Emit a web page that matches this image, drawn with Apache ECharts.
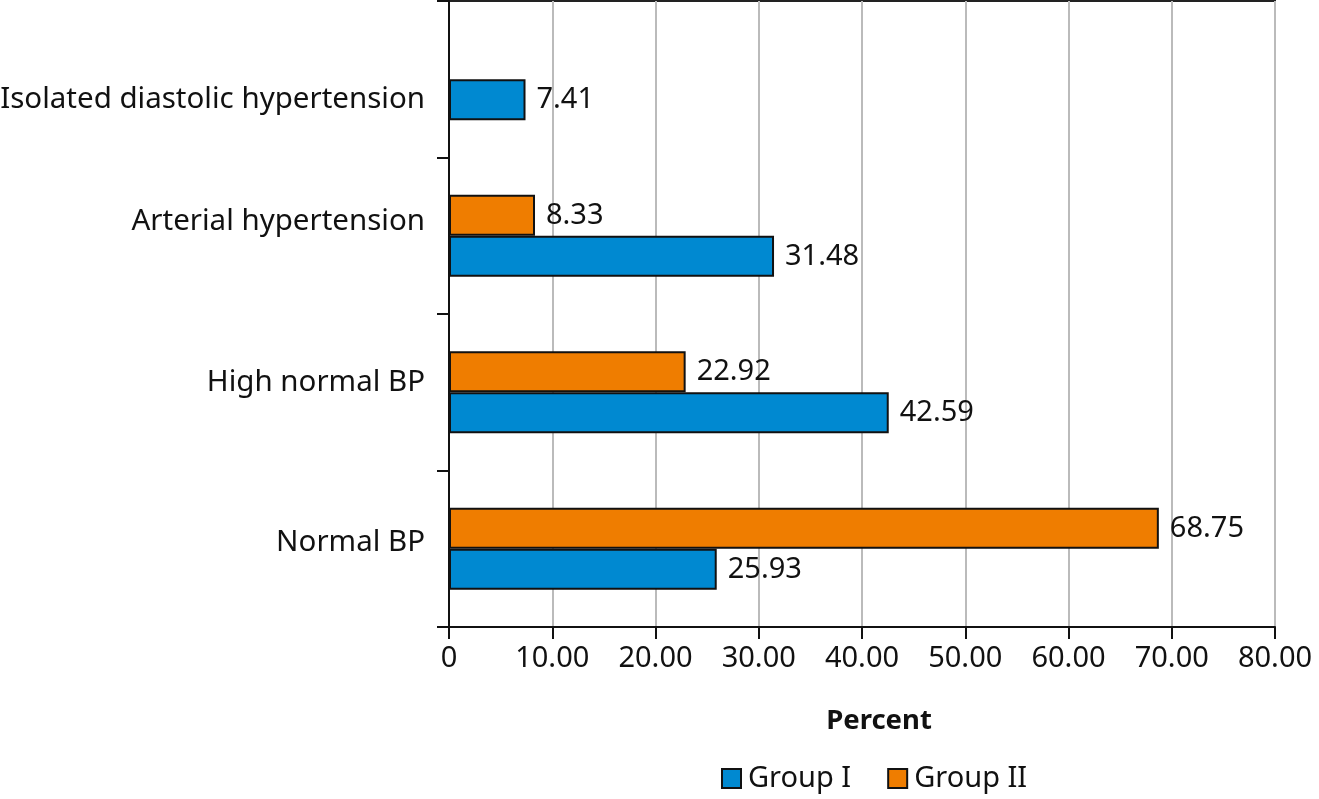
<!DOCTYPE html>
<html><head><meta charset="utf-8">
<script src="https://cdn.jsdelivr.net/npm/echarts@6/dist/echarts.min.js"></script>
<style>html,body{margin:0;padding:0;background:#fff}#c{width:1319px;height:799px}</style>
</head><body><div id="c"></div>
<script>
const categories = ['Normal BP', 'High normal BP', 'Arterial hypertension', 'Isolated diastolic hypertension'];
const groupI = [25.93, 42.59, 31.48, 7.41];
const groupII = [68.75, 22.92, 8.33, null];
const xTicks = [0, 10, 20, 30, 40, 50, 60, 70, 80];

const font = 'Noto Sans';
const chart = echarts.init(document.getElementById('c'));
const lbl = {show: true, position: 'right', distance: 11, fontSize: 29, color: '#111', fontFamily: font,
  formatter: p => p.value == null ? '' : p.value.toFixed(2)};
const catStyle = {fontSize: 29.5, color: '#111', fontFamily: font};
chart.setOption({
  animation: false,
  textStyle: {fontFamily: font},
  grid: {left: 449, right: 44, top: 1, bottom: 172, outerBoundsMode: 'none', containLabel: false,
    show: true, borderColor: '#222', borderWidth: 2},
  legend: {bottom: 1, left: 716, icon: 'rect', itemWidth: 19, itemHeight: 19, itemGap: 36,
    textStyle: {fontSize: 29, color: '#111', fontFamily: font, padding: [0, 0, 0, 2]},
    data: ['Group I', 'Group II']},
  xAxis: {type: 'value', min: xTicks[0], max: xTicks[xTicks.length - 1], interval: 10,
    name: 'Percent', nameLocation: 'middle', nameGap: 80,
    nameTextStyle: {fontSize: 27.5, fontWeight: 'bold', color: '#111', fontFamily: font, padding: [0, 0, 0, 34]},
    axisLine: {show: true, lineStyle: {color: '#111', width: 2}},
    axisTick: {show: true, length: 12, lineStyle: {color: '#111', width: 2}},
    axisLabel: {fontSize: 29, color: '#111', margin: 17, fontFamily: font,
      formatter: v => v === 0 ? '0' : v.toFixed(2)},
    splitLine: {show: true, lineStyle: {color: '#bbb', width: 2}}},
  yAxis: {type: 'category', data: categories,
    axisLine: {show: true, lineStyle: {color: '#111', width: 2}},
    axisTick: {show: true, length: 12, lineStyle: {color: '#111', width: 2}},
    axisLabel: Object.assign({margin: 24,
      formatter: (v, i) => '{c' + i + '|' + v + '}',
      rich: {
        c0: Object.assign({padding: [0, 0, 12, 0]}, catStyle),
        c1: Object.assign({padding: [0, 0, 20, 0]}, catStyle),
        c2: Object.assign({padding: [0, 0, 28, 0]}, catStyle),
        c3: Object.assign({padding: [40, 0, 0, 0]}, catStyle)
      }}, catStyle),
    splitLine: {show: false}},
  series: [
    {name: 'Group II', type: 'bar', data: groupII, barWidth: 41, barGap: '0%',
      itemStyle: {color: '#ef7d00', borderColor: '#111', borderWidth: 2}, label: lbl},
    {name: 'Group I', type: 'bar', data: groupI, barWidth: 41, barGap: '0%',
      itemStyle: {color: '#0089d1', borderColor: '#111', borderWidth: 2}, label: lbl}
  ]
});
</script></body></html>
